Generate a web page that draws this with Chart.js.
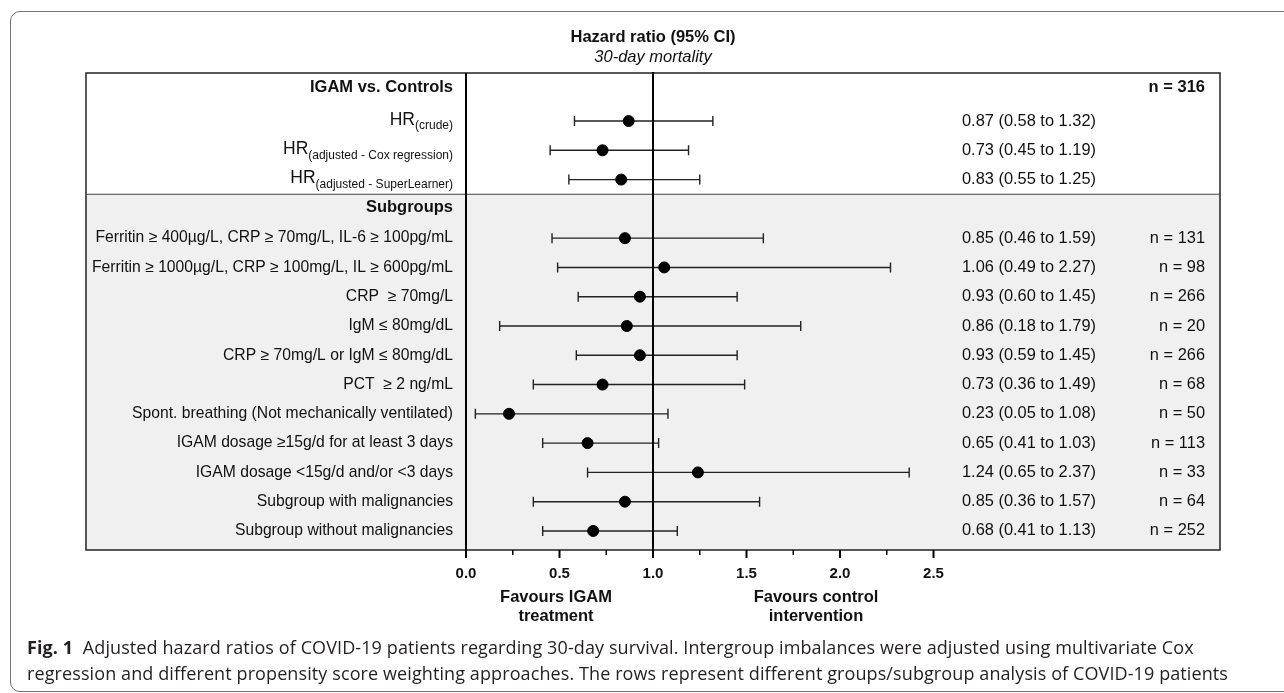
<!DOCTYPE html>
<html>
<head>
<meta charset="utf-8">
<script src="https://cdn.jsdelivr.net/npm/chart.js@4.4.1/dist/chart.umd.min.js"></script>
<style>
  body { margin: 0; background: #fff; overflow: hidden; }
  #frame { position: absolute; left: 10px; top: 11px; width: 1320px; height: 681px; box-sizing: border-box;
           border: 1px solid #707070; border-radius: 10px; }
  #chart { position: absolute; left: 0; top: 0; }
  #caption { position: absolute; left: 27px; top: 634px; font-family: "Open Sans"; font-size: 18px;
             letter-spacing: 0.1px; line-height: 26px; color: #231f20; white-space: nowrap; }
</style>
</head>
<body>
<div id="frame"></div>
<canvas id="chart" width="1284" height="693"></canvas>
<div id="caption"><b>Fig. 1</b>&nbsp;&nbsp;Adjusted hazard ratios of COVID-19 patients regarding 30-day survival. Intergroup imbalances were adjusted using multivariate Cox<br>regression and different propensity score weighting approaches. The rows represent different groups/subgroup analysis of COVID-19 patients</div>
<script>
// main comparison rows
const groupHeader = "IGAM vs. Controls";
const groupTotal = "n = 316";
const groupSubs = ["(crude)", "(adjusted - Cox regression)", "(adjusted - SuperLearner)"];

// subgroup rows
const subgroupHeader = "Subgroups";
const subgroupLabels = [
  "Ferritin ≥ 400µg/L, CRP ≥ 70mg/L, IL-6 ≥ 100pg/mL",
  "Ferritin ≥ 1000µg/L, CRP ≥ 100mg/L, IL ≥ 600pg/mL",
  "CRP  ≥ 70mg/L",
  "IgM ≤ 80mg/dL",
  "CRP ≥ 70mg/L or IgM ≤ 80mg/dL",
  "PCT  ≥ 2 ng/mL",
  "Spont. breathing (Not mechanically ventilated)",
  "IGAM dosage ≥15g/d for at least 3 days",
  "IGAM dosage <15g/d and/or <3 days",
  "Subgroup with malignancies",
  "Subgroup without malignancies"
];

// hazard ratios and 95% CI, 3 group rows then 11 subgroup rows
const hr     = [0.87, 0.73, 0.83, 0.85, 1.06, 0.93, 0.86, 0.93, 0.73, 0.23, 0.65, 1.24, 0.85, 0.68];
const ciLow  = [0.58, 0.45, 0.55, 0.46, 0.49, 0.60, 0.18, 0.59, 0.36, 0.05, 0.41, 0.65, 0.36, 0.41];
const ciHigh = [1.32, 1.19, 1.25, 1.59, 2.27, 1.45, 1.79, 1.45, 1.49, 1.08, 1.03, 2.37, 1.57, 1.13];
const nCount = [null, null, null, 131, 98, 266, 20, 266, 68, 50, 113, 33, 64, 252];

const xTicks = [0, 0.5, 1, 1.5, 2, 2.5];

// row 0 = group header, rows 1-3 = HR rows, row 4 = subgroup header, rows 5.. = subgroups
const rowOf = i => (i < 3 ? i + 1 : i + 2);

const FONT = "'Liberation Sans', Arial, sans-serif";
const TABLE_L = 86, TABLE_R = 1220;
const LABEL_R = 453, VALUE_L = 962, N_R = 1205;

const forestPlugin = {
  id: "forest",
  beforeDatasetsDraw(chart) {
    const { ctx, chartArea: a, scales: { x, y } } = chart;
    ctx.save();
    // grey subgroup block
    const sep = y.getPixelForValue(3.5);
    ctx.fillStyle = "#eff0ef";
    ctx.fillRect(TABLE_L, sep, TABLE_R - TABLE_L, a.bottom - sep);
    // whiskers
    ctx.strokeStyle = "#222";
    ctx.lineWidth = 1.4;
    hr.forEach((v, i) => {
      const py = y.getPixelForValue(rowOf(i));
      const x0 = x.getPixelForValue(ciLow[i]), x1 = x.getPixelForValue(ciHigh[i]);
      ctx.beginPath();
      ctx.moveTo(x0, py); ctx.lineTo(x1, py);
      ctx.moveTo(x0, py - 5); ctx.lineTo(x0, py + 5);
      ctx.moveTo(x1, py - 5); ctx.lineTo(x1, py + 5);
      ctx.stroke();
    });
    ctx.restore();
  },
  afterDraw(chart) {
    const { ctx, chartArea: a, scales: { x, y } } = chart;
    ctx.save();
    const sep = y.getPixelForValue(3.5);
    const x1 = x.getPixelForValue(1);

    // table frame
    ctx.strokeStyle = "#222";
    ctx.lineWidth = 1.5;
    ctx.strokeRect(TABLE_L, a.top, TABLE_R - TABLE_L, a.bottom - a.top);
    ctx.strokeStyle = "#444";
    ctx.lineWidth = 1.2;
    ctx.beginPath(); ctx.moveTo(TABLE_L, sep); ctx.lineTo(TABLE_R, sep); ctx.stroke();

    // divider (x = 0) and reference line (x = 1)
    ctx.strokeStyle = "#000";
    ctx.lineWidth = 2;
    ctx.beginPath();
    ctx.moveTo(a.left, a.top); ctx.lineTo(a.left, a.bottom);
    ctx.moveTo(x1, a.top - 1); ctx.lineTo(x1, a.bottom);
    ctx.stroke();

    // axis ticks
    for (let v = 0; v <= 2.5001; v += 0.25) {
      const px = x.getPixelForValue(v);
      const major = Math.abs(v * 2 - Math.round(v * 2)) < 1e-6;
      ctx.lineWidth = major ? 2 : 1.5;
      ctx.beginPath(); ctx.moveTo(px, a.bottom); ctx.lineTo(px, a.bottom + (major ? 8 : 5)); ctx.stroke();
    }

    // titles
    ctx.fillStyle = "#111";
    ctx.textAlign = "center";
    ctx.textBaseline = "middle";
    ctx.font = "bold 16.5px " + FONT;
    ctx.fillText("Hazard ratio (95% CI)", x1, 37);
    ctx.font = "italic 16.5px " + FONT;
    ctx.fillText("30-day mortality", x1, 57);

    ctx.font = "bold 16.5px " + FONT;
    ctx.fillText("Favours IGAM", 556, 597);
    ctx.fillText("treatment", 556, 616);
    ctx.fillText("Favours control", 816, 597);
    ctx.fillText("intervention", 816, 616);

    // headers
    ctx.textAlign = "right";
    ctx.font = "bold 16.5px " + FONT;
    ctx.fillText(groupHeader, LABEL_R, y.getPixelForValue(0) - 4);
    ctx.fillText(groupTotal, N_R, y.getPixelForValue(0) - 4);
    ctx.fillText(subgroupHeader, LABEL_R, y.getPixelForValue(4) - 1);

    // HR rows with subscripts
    groupSubs.forEach((s, i) => {
      const py = y.getPixelForValue(rowOf(i));
      ctx.font = "12px " + FONT;
      const sw = ctx.measureText(s).width;
      ctx.fillText(s, LABEL_R, py + 5);
      ctx.font = "17.5px " + FONT;
      ctx.fillText("HR", LABEL_R - sw, py - 1);
    });

    // subgroup labels
    ctx.font = "15.7px " + FONT;
    subgroupLabels.forEach((s, k) => {
      ctx.fillText(s, LABEL_R, y.getPixelForValue(rowOf(k + 3)));
    });

    // value column and n column
    ctx.font = "16.4px " + FONT;
    hr.forEach((v, i) => {
      const py = y.getPixelForValue(rowOf(i));
      ctx.textAlign = "left";
      ctx.fillText(v.toFixed(2) + " (" + ciLow[i].toFixed(2) + " to " + ciHigh[i].toFixed(2) + ")", VALUE_L, py);
      if (nCount[i] !== null) {
        ctx.textAlign = "right";
        ctx.fillText("n = " + nCount[i], N_R, py);
      }
    });
    ctx.restore();
  }
};

new Chart(document.getElementById("chart"), {
  type: "scatter",
  data: {
    datasets: [{
      data: hr.map((v, i) => ({ x: v, y: rowOf(i) })),
      backgroundColor: "#000",
      borderColor: "#000",
      pointRadius: 5.5,
      pointHoverRadius: 5.5
    }]
  },
  options: {
    responsive: false,
    animation: false,
    devicePixelRatio: 1,
    layout: { padding: { left: 466, right: 64, top: 73, bottom: 103 } },
    plugins: { legend: { display: false }, tooltip: { enabled: false } },
    scales: {
      x: {
        type: "linear",
        min: 0,
        max: 4.032,
        afterBuildTicks: s => { s.ticks = xTicks.map(v => ({ value: v })); },
        afterFit: s => { s.height = 40; },
        grid: { display: false, drawTicks: false },
        border: { display: false },
        ticks: {
          autoSkip: false,
          maxRotation: 0,
          padding: 15,
          color: "#111",
          font: { family: FONT, weight: "bold", size: 15 },
          callback: v => Number(v).toFixed(1)
        }
      },
      y: {
        type: "linear",
        reverse: true,
        min: -0.64,
        max: 15.65,
        display: false
      }
    }
  },
  plugins: [forestPlugin]
});
</script>
</body>
</html>
